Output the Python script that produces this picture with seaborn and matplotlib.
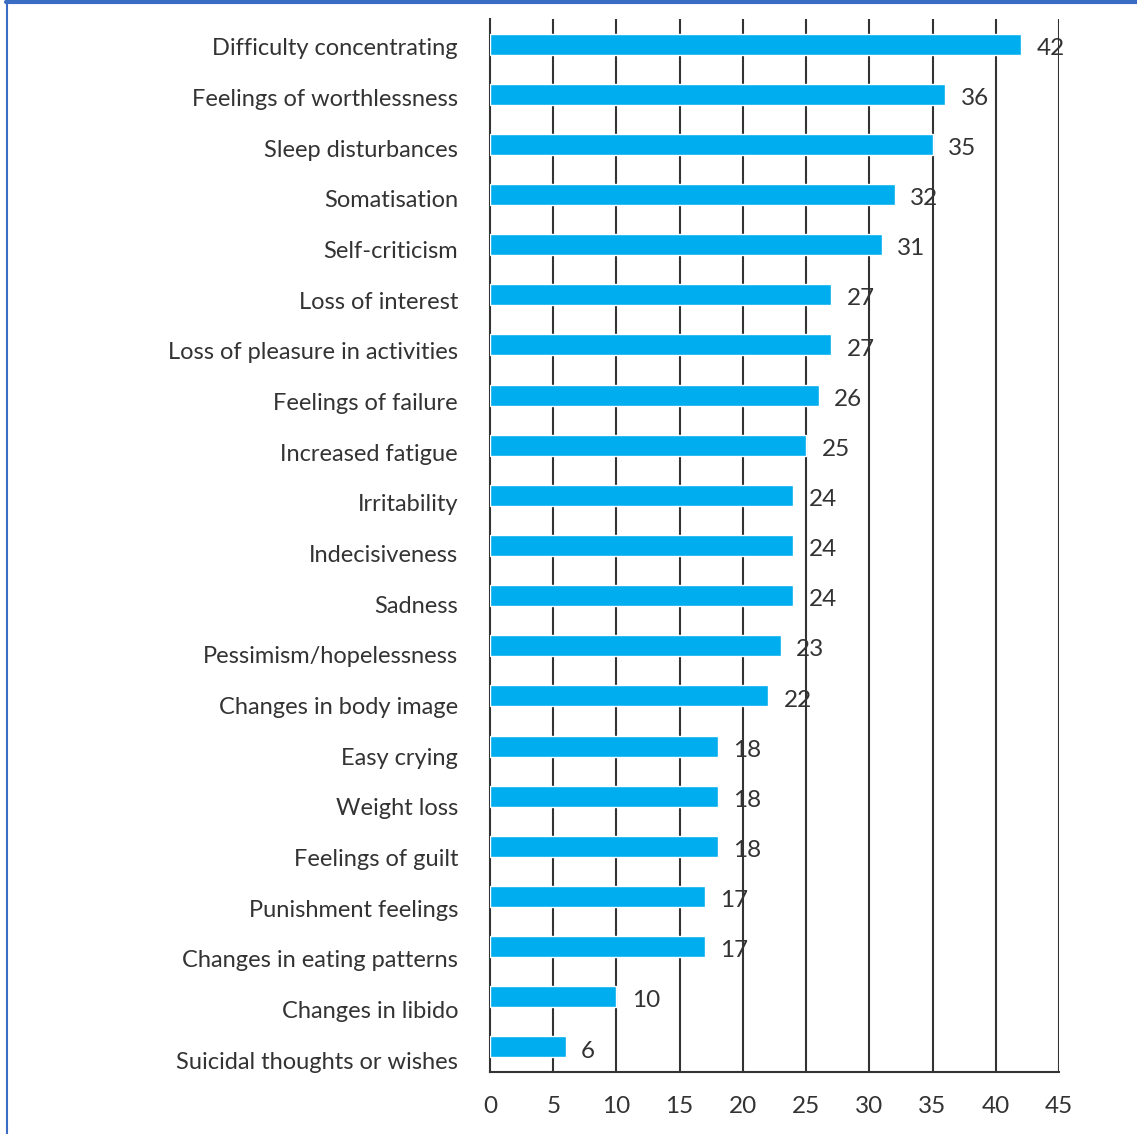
import numpy as np
import pandas as pd
import seaborn as sns
import matplotlib.pyplot as plt
from matplotlib.lines import Line2D

# data
symptoms = [
    "Difficulty concentrating", "Feelings of worthlessness", "Sleep disturbances",
    "Somatisation", "Self-criticism", "Loss of interest",
    "Loss of pleasure in activities", "Feelings of failure", "Increased fatigue",
    "Irritability", "Indecisiveness", "Sadness", "Pessimism/hopelessness",
    "Changes in body image", "Easy crying", "Weight loss", "Feelings of guilt",
    "Punishment feelings", "Changes in eating patterns", "Changes in libido",
    "Suicidal thoughts or wishes",
]
counts = [42, 36, 35, 32, 31, 27, 27, 26, 25, 24, 24, 24, 23, 22, 18, 18, 18, 17, 17, 10, 6]
x_ticks = [0, 5, 10, 15, 20, 25, 30, 35, 40, 45]

df = pd.DataFrame({"symptom": symptoms, "count": counts})

sns.set_style("white")
plt.rcParams["font.family"] = ["Lato", "DejaVu Sans"]
text_col = "#333333"
bar_col = "#00AEEF"
grid_col = "#333333"

fig = plt.figure(figsize=(11.37, 11.34), dpi=100)
ax = fig.add_axes([490 / 1137, 1 - 1072 / 1134, 569 / 1137, 1053 / 1134])

sns.barplot(data=df, x="count", y="symptom", orient="h", color=bar_col,
            width=0.42, saturation=1, ax=ax, zorder=3)

ax.set_xlim(0, 45)
ax.set_ylim(20.5, -0.5)
ax.set_xlabel("")
ax.set_ylabel("")

# vertical grid lines
for v in x_ticks[1:]:
    ax.axvline(v, color=grid_col, lw=1.5, zorder=2)

for s in ["top", "right"]:
    ax.spines[s].set_visible(False)
for s in ["left", "bottom"]:
    ax.spines[s].set_color(grid_col)
    ax.spines[s].set_linewidth(1.5)

ax.set_xticks(x_ticks)
ax.set_xticklabels([str(t) for t in x_ticks])
ax.tick_params(axis="x", length=6, width=1.5, color=grid_col, pad=11,
               labelsize=17.5, labelcolor=text_col, direction="out")

# labels sit slightly below the bars in the original
ax.set_yticks(np.arange(len(symptoms)) * 1.0102 + 0.058)
ax.set_yticklabels(symptoms)
ax.tick_params(axis="y", which="major", length=0, pad=23,
               labelsize=17, labelcolor=text_col)
ax.set_yticks(np.arange(-0.5, len(symptoms)), minor=True)
ax.tick_params(axis="y", which="minor", length=6, width=1.5, color=grid_col,
               direction="out")

vals = ax.bar_label(ax.containers[0], labels=[str(c) for c in counts],
                    padding=11, fontsize=17.5, color=text_col)
for t in vals:
    t.xyann = (11, -3)

# blue frame around the figure
fig.add_artist(Line2D([6 / 1137, 1], [1 - 1.5 / 1134, 1 - 1.5 / 1134],
                      transform=fig.transFigure, color="#3b6cc4", lw=3))
fig.add_artist(Line2D([6.5 / 1137, 6.5 / 1137], [0, 1],
                      transform=fig.transFigure, color="#3b6cc4", lw=1.5))

fig.savefig("out.png", dpi=100)
